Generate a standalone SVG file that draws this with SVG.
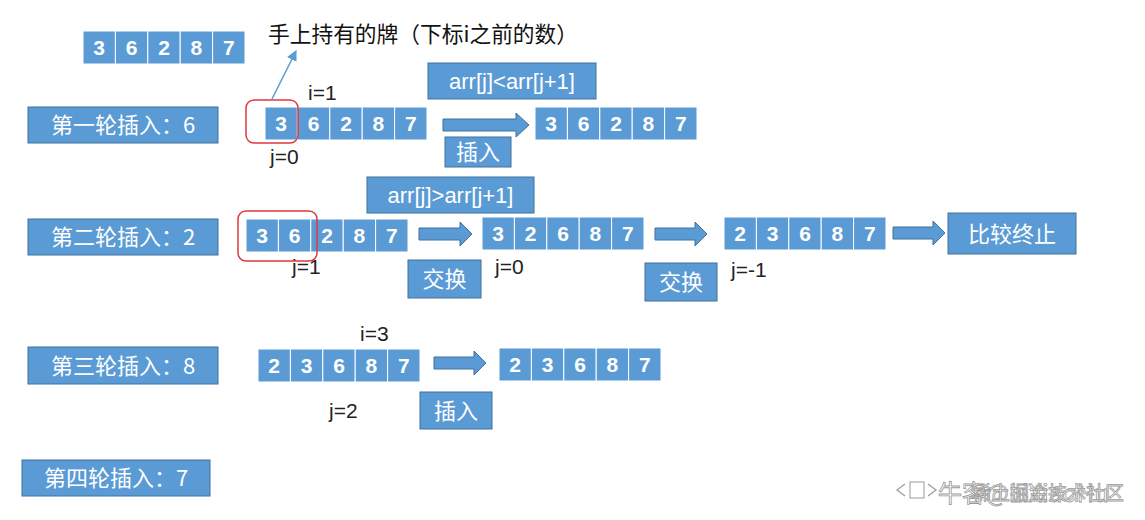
<svg xmlns="http://www.w3.org/2000/svg" xmlns:xlink="http://www.w3.org/1999/xlink" width="1145" height="520" viewBox="0 0 1145 520">
<defs>
<style>
.cell{fill:#5b9bd5;stroke:#ffffff;stroke-width:1}
.d{font-family:"Liberation Sans",Arial,sans-serif;font-size:21px;font-weight:bold;fill:#ffffff;text-anchor:middle}
.box{fill:#5b9bd5;stroke:#41719c;stroke-width:1}
.bt{font-family:"Noto Sans CJK SC","Liberation Sans",sans-serif;font-size:22px;fill:#ffffff;text-anchor:middle}
.bt2{font-family:"Liberation Sans","Noto Sans CJK SC",sans-serif;font-size:22px;fill:#ffffff;text-anchor:middle}
.lab{font-family:"Liberation Sans",Arial,sans-serif;font-size:21px;fill:#222222}
.cap{font-family:"Noto Sans CJK SC","Liberation Sans",sans-serif;font-size:22px;fill:#111111}
.fat{fill:#5b9bd5;stroke:#41719c;stroke-width:1}
.red{fill:none;stroke:#e0393e;stroke-width:1.5}
.wm{font-family:"Noto Sans CJK SC","Liberation Sans",sans-serif;fill:#ffffff;stroke:#9a9a9a;stroke-width:0.8}
</style>
<symbol id="row5" overflow="visible">
<rect class="cell" x="0" y="0" width="32.4" height="33"/>
<rect class="cell" x="32.4" y="0" width="32.4" height="33"/>
<rect class="cell" x="64.8" y="0" width="32.4" height="33"/>
<rect class="cell" x="97.2" y="0" width="32.4" height="33"/>
<rect class="cell" x="129.6" y="0" width="32.4" height="33"/>
</symbol>
<marker id="ah" viewBox="0 0 10 10" refX="9" refY="5" markerWidth="7" markerHeight="7" orient="auto">
<path d="M0,0 L10,5 L0,10 z" fill="#5b9bd5"/>
</marker>
</defs>
<rect width="1145" height="520" fill="#ffffff"/>

<g id="initial-array">
<use xlink:href="#row5" href="#row5" x="83" y="31"/>
<text class="d" y="55"><tspan x="99.2">3</tspan><tspan x="131.6">6</tspan><tspan x="164">2</tspan><tspan x="196.4">8</tspan><tspan x="228.8">7</tspan></text>
</g>
<g id="caption">
<text class="cap" x="268" y="42" textLength="310" lengthAdjust="spacingAndGlyphs">手上持有的牌（下标i之前的数）</text>
</g>

<g id="round1">
<rect class="box" x="28" y="107" width="190" height="36"/>
<text class="bt" x="123" y="133">第一轮插入：6</text>
</g>
<g id="r1-array">
<use xlink:href="#row5" href="#row5" x="265" y="107"/>
<text class="d" y="131"><tspan x="281.2">3</tspan><tspan x="313.6">6</tspan><tspan x="346">2</tspan><tspan x="378.4">8</tspan><tspan x="410.8">7</tspan></text>
<rect class="red" x="246" y="100" width="52" height="43" rx="8"/>
<text class="lab" x="308" y="100">i=1</text>
<text class="lab" x="270" y="164">j=0</text>
</g>
<g id="r1-cond">
<rect class="box" x="428" y="63" width="168" height="36"/>
<text class="bt2" x="512" y="89">arr[j]&lt;arr[j+1]</text>
</g>
<g id="r1-insert">
<rect class="box" x="445" y="137" width="66" height="30"/>
<text class="bt" x="478" y="160">插入</text>
</g>
<g id="r1-result">
<use xlink:href="#row5" href="#row5" x="535" y="107"/>
<text class="d" y="131"><tspan x="551.2">3</tspan><tspan x="583.6">6</tspan><tspan x="616">2</tspan><tspan x="648.4">8</tspan><tspan x="680.8">7</tspan></text>
</g>

<g id="round2">
<rect class="box" x="28" y="219" width="190" height="36"/>
<text class="bt" x="123" y="245">第二轮插入：2</text>
</g>
<g id="r2-array">
<use xlink:href="#row5" href="#row5" x="246" y="219"/>
<text class="d" y="243"><tspan x="262.2">3</tspan><tspan x="294.6">6</tspan><tspan x="327">2</tspan><tspan x="359.4">8</tspan><tspan x="391.8">7</tspan></text>
<text class="lab" x="292" y="274">j=1</text>
<rect class="red" x="238" y="211" width="79" height="50" rx="8"/>
</g>
<g id="r2-cond">
<rect class="box" x="367" y="177" width="167" height="36"/>
<text class="bt2" x="450.5" y="203">arr[j]&gt;arr[j+1]</text>
</g>
<g id="r2-swap1">
<rect class="box" x="408" y="260" width="73" height="38"/>
<text class="bt" x="444.5" y="287">交换</text>
</g>
<g id="r2-step1">
<use xlink:href="#row5" href="#row5" x="482" y="217"/>
<text class="d" y="241"><tspan x="498.2">3</tspan><tspan x="530.6">2</tspan><tspan x="563">6</tspan><tspan x="595.4">8</tspan><tspan x="627.8">7</tspan></text>
<text class="lab" x="495" y="274">j=0</text>
</g>
<g id="r2-swap2">
<rect class="box" x="645" y="263" width="72" height="38"/>
<text class="bt" x="681" y="290">交换</text>
</g>
<g id="r2-step2">
<use xlink:href="#row5" href="#row5" x="724" y="217"/>
<text class="d" y="241"><tspan x="740.2">2</tspan><tspan x="772.6">3</tspan><tspan x="805">6</tspan><tspan x="837.4">8</tspan><tspan x="869.8">7</tspan></text>
<text class="lab" x="731" y="277">j=-1</text>
</g>
<g id="r2-stop">
<rect class="box" x="948" y="213" width="128" height="41"/>
<text class="bt" x="1012" y="242">比较终止</text>
</g>

<g id="round3">
<rect class="box" x="28" y="347" width="190" height="37"/>
<text class="bt" x="123" y="374">第三轮插入：8</text>
</g>
<g id="r3-array">
<use xlink:href="#row5" href="#row5" x="258" y="349"/>
<text class="d" y="373"><tspan x="274.2">2</tspan><tspan x="306.6">3</tspan><tspan x="339">6</tspan><tspan x="371.4">8</tspan><tspan x="403.8">7</tspan></text>
<text class="lab" x="360" y="341">i=3</text>
<text class="lab" x="329" y="418">j=2</text>
</g>
<g id="r3-insert">
<rect class="box" x="420" y="392" width="72" height="37"/>
<text class="bt" x="456" y="419">插入</text>
</g>
<g id="r3-result">
<use xlink:href="#row5" href="#row5" x="499" y="348"/>
<text class="d" y="372"><tspan x="515.2">2</tspan><tspan x="547.6">3</tspan><tspan x="580">6</tspan><tspan x="612.4">8</tspan><tspan x="644.8">7</tspan></text>
</g>

<g id="round4">
<rect class="box" x="22" y="460" width="188" height="36"/>
<text class="bt" x="116" y="486">第四轮插入：7</text>
</g>

<g id="connectors">
<line x1="272" y1="99" x2="296" y2="51" stroke="#5b9bd5" stroke-width="1.5" marker-end="url(#ah)"/>
<path class="fat" d="M443,119 H516 V113 L529,125 L516,137 V131 H443 Z"/>
<path class="fat" d="M419,228 H460 V222 L472,234 L460,246 V240 H419 Z"/>
<path class="fat" d="M655,228 H695 V222 L707,234 L695,246 V240 H655 Z"/>
<path class="fat" d="M893,227 H933 V221 L945,233 L933,245 V239 H893 Z"/>
<path class="fat" d="M434,357 H474 V351 L486,363 L474,375 V369 H434 Z"/>
</g>

<g id="watermark">
<path d="M905,484 l-8,6 l8,6 M928,484 l8,6 l-8,6" fill="none" stroke="#9a9a9a" stroke-width="1.2"/>
<rect x="910" y="482" width="14" height="16" fill="none" stroke="#9a9a9a" stroke-width="1"/>
<text class="wm" x="938" y="502" font-size="24">牛客@LiXiaoHu</text>
<text class="wm" x="972" y="500" font-size="19">稀土掘金技术社区</text>
</g>
</svg>
